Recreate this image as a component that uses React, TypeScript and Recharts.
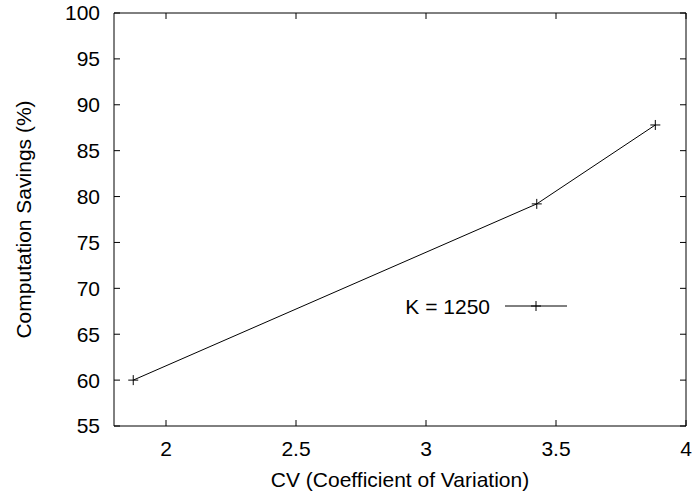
import { LineChart, Line, XAxis, YAxis, Legend } from "recharts";

// CV values and computation savings
const cvValues = [1.874, 3.426, 3.882];
const savings = [60.0, 79.2, 87.8];
const seriesName = "K = 1250";

const xTicks = [2, 2.5, 3, 3.5, 4];
const yTicks = [55, 60, 65, 70, 75, 80, 85, 90, 95, 100];

const data = cvValues.map((cv, i) => ({ cv, value: savings[i] }));

const FONT = "'Liberation Sans', Arial, Helvetica, sans-serif";
const tickStyle = { fill: "#000", fontSize: 21, fontFamily: FONT };

const PlusDot = (props: { cx?: number; cy?: number; index?: number }) => {
  const { cx, cy, index } = props;
  if (cx == null || cy == null) return null;
  return (
    <path
      key={index}
      d={`M${cx - 5},${cy}h10M${cx},${cy - 5}v10`}
      stroke="#000"
      strokeWidth={1}
      fill="none"
    />
  );
};

const KeyBox = () => (
  <svg width={200} height={30} style={{ display: "block" }}>
    <text x={106} y={22} textAnchor="end" fontSize={21} fontFamily={FONT} fill="#000">
      {seriesName}
    </text>
    <line x1={121} y1={14} x2={183} y2={14} stroke="#000" strokeWidth={1} />
    <path d="M147,14h10M152,9v10" stroke="#000" strokeWidth={1} />
  </svg>
);

const YTitle = ({ viewBox }: any) => {
  const cy = viewBox ? viewBox.y + viewBox.height / 2 : 219.5;
  return (
    <text
      x={31}
      y={cy}
      transform={`rotate(-90, 31, ${cy})`}
      textAnchor="middle"
      fontSize={21}
      fontFamily={FONT}
      fill="#000"
    >
      Computation Savings (%)
    </text>
  );
};

const XTitle = ({ viewBox }: any) => {
  const cx = viewBox ? viewBox.x + viewBox.width / 2 : 400;
  return (
    <text x={cx} y={487} textAnchor="middle" fontSize={21} fontFamily={FONT} fill="#000">
      CV (Coefficient of Variation)
    </text>
  );
};

const hideTick = () => <g />;

export default function App() {
  return (
    <div style={{ position: "absolute", left: 0, top: 0, width: 696, height: 497, background: "#fff" }}>
      <LineChart
        width={696}
        height={497}
        data={data}
        margin={{ top: 12, right: 9, left: 0, bottom: 0 }}
      >
        <XAxis
          xAxisId="bottom"
          dataKey="cv"
          type="number"
          domain={[1.8, 4]}
          ticks={xTicks}
          interval={0}
          allowDataOverflow
          height={71}
          tickSize={-6}
          tickMargin={21}
          tick={tickStyle}
          stroke="#000"
          axisLine={{ stroke: "#000" }}
          tickLine={{ stroke: "#000" }}
          label={<XTitle />}
        />
        <XAxis
          xAxisId="top"
          orientation="top"
          dataKey="cv"
          type="number"
          domain={[1.8, 4]}
          ticks={xTicks}
          interval={0}
          allowDataOverflow
          height={1}
          tickSize={-6}
          tick={hideTick}
          axisLine={{ stroke: "#000" }}
          tickLine={{ stroke: "#000" }}
        />
        <YAxis
          yAxisId="left"
          type="number"
          domain={[55, 100]}
          ticks={yTicks}
          interval={0}
          allowDataOverflow
          width={114}
          tickSize={-6}
          tickMargin={20}
          tick={tickStyle}
          axisLine={{ stroke: "#000" }}
          tickLine={{ stroke: "#000" }}
          label={<YTitle />}
        />
        <YAxis
          yAxisId="right"
          orientation="right"
          type="number"
          domain={[55, 100]}
          ticks={yTicks}
          interval={0}
          allowDataOverflow
          width={1}
          tickSize={-6}
          tick={hideTick}
          axisLine={{ stroke: "#000" }}
          tickLine={{ stroke: "#000" }}
        />
        <Legend
          layout="horizontal"
          verticalAlign="middle"
          align="center"
          content={<KeyBox />}
          wrapperStyle={{ position: "absolute", left: 384, top: 292, width: 200, bottom: "auto" }}
        />
        <Line
          xAxisId="bottom"
          yAxisId="left"
          type="linear"
          dataKey="value"
          name={seriesName}
          stroke="#000"
          strokeWidth={1}
          dot={<PlusDot />}
          activeDot={false}
          isAnimationActive={false}
        />
      </LineChart>
    </div>
  );
}
